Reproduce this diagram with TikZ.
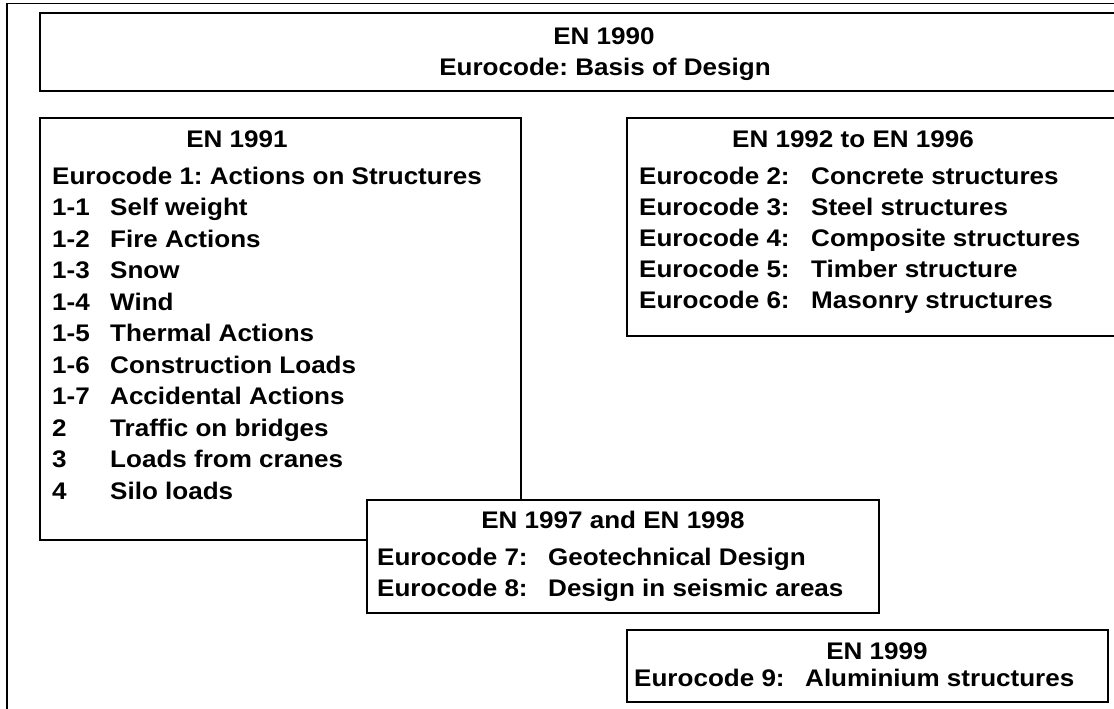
\documentclass[tikz,border=0pt]{standalone}
\usepackage{fontspec}
\setmainfont[FakeStretch=1.085]{Liberation Sans}
\usepackage{tikz}

\tikzset{
  box/.style={draw, line width=1.6pt, fill=white, inner sep=0pt, anchor=north west},
  txt/.style={anchor=base west, inner sep=0pt, font=\fontsize{24}{28}\selectfont\bfseries\frenchspacing},
  head/.style={txt, anchor=base},
}

\begin{document}
\begin{tikzpicture}[x=1pt,y=-1pt]
% page size, the sheet is cut off at right and bottom
\useasboundingbox (0,0) rectangle (1114,709);
\clip (0,0) rectangle (1114,709);

% outer frame
\draw[line width=1.2pt] (7,720) -- (7,3.5) -- (1120,3.5);

% EN 1990
\node[box, minimum width=1100pt, minimum height=78pt] (basis) at (39,12) {};
\node[head] (basishead) at (604,45) {EN 1990};
\node[head] (basisname) at (605,76) {Eurocode: Basis of Design};

% EN 1991
\node[box, minimum width=481pt, minimum height=422pt] (actions) at (39,117) {};
\node[head] (actionshead) at (237,147) {EN 1991};
\node[txt] (actionsname) at (52,184) {Eurocode 1: Actions on Structures};
\foreach \code/\title [count=\i] in {1-1/Self weight, 1-2/Fire Actions, 1-3/Snow,
    1-4/Wind, 1-5/Thermal Actions, 1-6/Construction Loads, 1-7/Accidental Actions,
    2/Traffic on bridges, 3/Loads from cranes, 4/Silo loads}{
  \node[txt] (actnum\i) at (52,{184+31.5*\i}) {\code};
  \node[txt] (actname\i) at (110,{184+31.5*\i}) {\title};
}

% EN 1992 to EN 1996
\node[box, minimum width=500pt, minimum height=218pt] (materials) at (626,117) {};
\node[head] (materialshead) at (853,147) {EN 1992 to EN 1996};
\foreach \n/\title [count=\i] in {2/Concrete structures, 3/Steel structures,
    4/Composite structures, 5/Timber structure, 6/Masonry structures}{
  \node[txt] (matnum\i) at (639,{184+31.2*(\i-1)}) {Eurocode \n:};
  \node[txt] (matname\i) at (811,{184+31.2*(\i-1)}) {\title};
}

% EN 1997 and EN 1998 (on top of EN 1991)
\node[box, minimum width=512pt, minimum height=113pt] (ground) at (366,499) {};
\node[head] (groundhead) at (613,528) {EN 1997 and EN 1998};
\foreach \n/\title [count=\i] in {7/Geotechnical Design, 8/Design in seismic areas}{
  \node[txt] (gndnum\i) at (377,{565+31*(\i-1)}) {Eurocode \n:};
  \node[txt] (gndname\i) at (548,{565+31*(\i-1)}) {\title};
}

% EN 1999
\node[box, minimum width=481pt, minimum height=72pt] (alu) at (626,629) {};
\node[head] (aluhead) at (877,659) {EN 1999};
\node[txt] (alunum) at (634,686) {Eurocode 9:};
\node[txt] (aluname) at (805,686) {Aluminium structures};

\end{tikzpicture}
\end{document}
